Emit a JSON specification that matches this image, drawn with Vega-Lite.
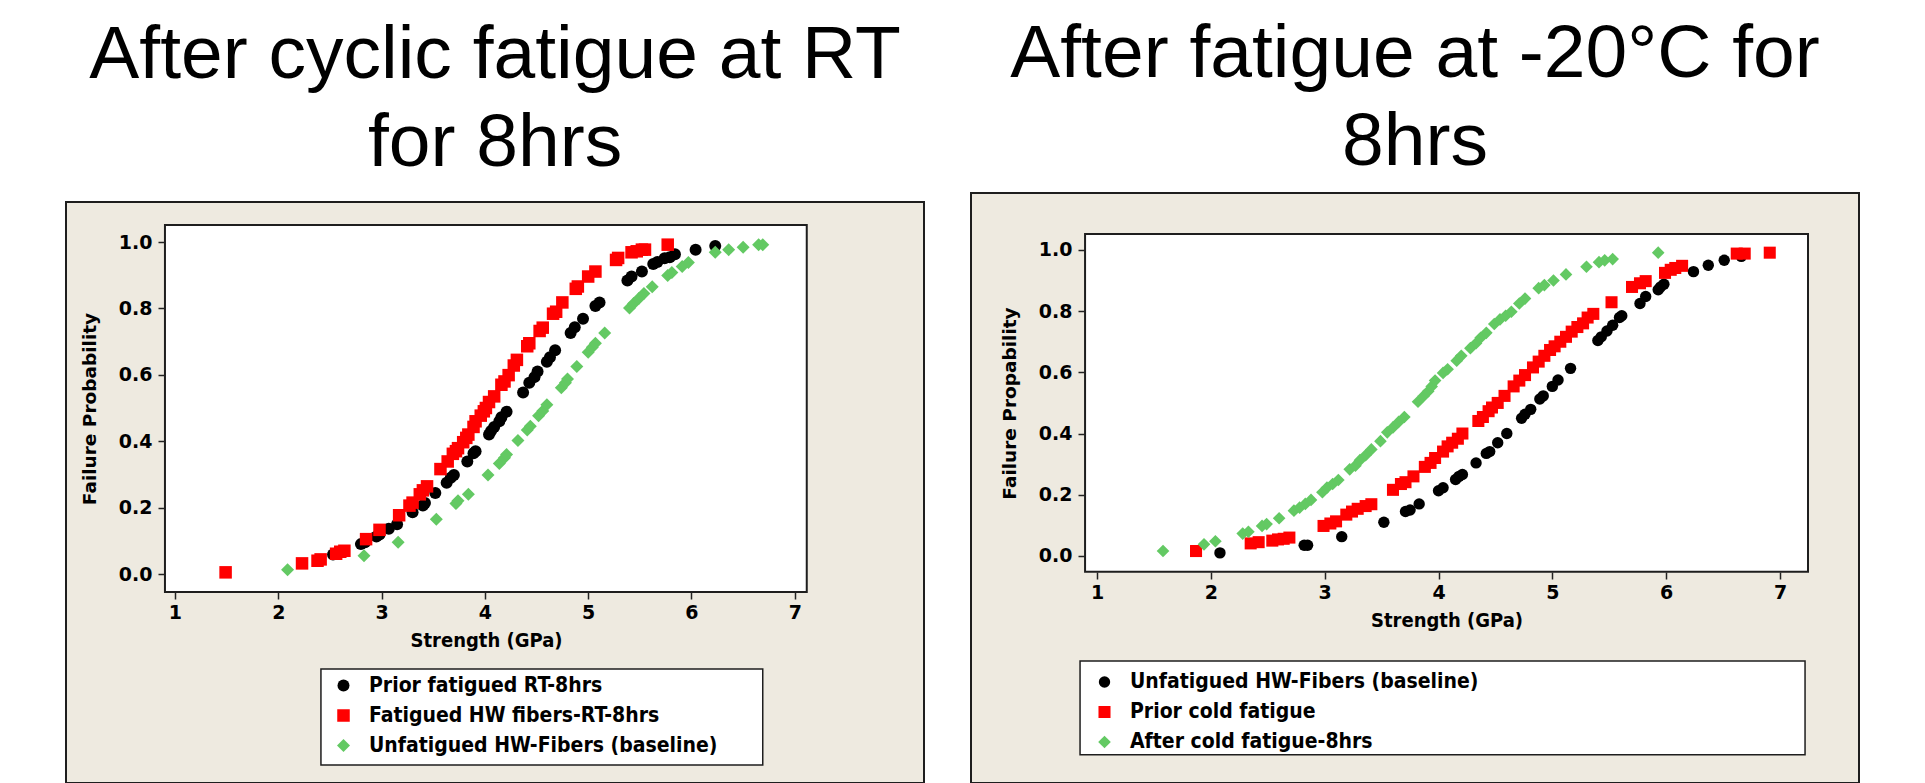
{
  "$schema": "https://vega.github.io/schema/vega-lite/v6.json",
  "background": "white",
  "padding": {"left": 65, "top": 17, "right": 0, "bottom": 0},
  "spacing": 45,
  "datasets": {
    "rt": [
      {"series": "Prior fatigued RT-8hrs", "strength": 2.53, "probability": 0.059},
      {"series": "Prior fatigued RT-8hrs", "strength": 2.80, "probability": 0.090},
      {"series": "Prior fatigued RT-8hrs", "strength": 2.84, "probability": 0.096},
      {"series": "Prior fatigued RT-8hrs", "strength": 2.95, "probability": 0.113},
      {"series": "Prior fatigued RT-8hrs", "strength": 2.98, "probability": 0.119},
      {"series": "Prior fatigued RT-8hrs", "strength": 3.07, "probability": 0.136},
      {"series": "Prior fatigued RT-8hrs", "strength": 3.15, "probability": 0.150},
      {"series": "Prior fatigued RT-8hrs", "strength": 3.30, "probability": 0.186},
      {"series": "Prior fatigued RT-8hrs", "strength": 3.40, "probability": 0.206},
      {"series": "Prior fatigued RT-8hrs", "strength": 3.42, "probability": 0.214},
      {"series": "Prior fatigued RT-8hrs", "strength": 3.52, "probability": 0.244},
      {"series": "Prior fatigued RT-8hrs", "strength": 3.63, "probability": 0.275},
      {"series": "Prior fatigued RT-8hrs", "strength": 3.67, "probability": 0.290},
      {"series": "Prior fatigued RT-8hrs", "strength": 3.70, "probability": 0.298},
      {"series": "Prior fatigued RT-8hrs", "strength": 3.83, "probability": 0.339},
      {"series": "Prior fatigued RT-8hrs", "strength": 3.89, "probability": 0.364},
      {"series": "Prior fatigued RT-8hrs", "strength": 3.91, "probability": 0.370},
      {"series": "Prior fatigued RT-8hrs", "strength": 4.04, "probability": 0.420},
      {"series": "Prior fatigued RT-8hrs", "strength": 4.06, "probability": 0.431},
      {"series": "Prior fatigued RT-8hrs", "strength": 4.09, "probability": 0.443},
      {"series": "Prior fatigued RT-8hrs", "strength": 4.14, "probability": 0.460},
      {"series": "Prior fatigued RT-8hrs", "strength": 4.16, "probability": 0.472},
      {"series": "Prior fatigued RT-8hrs", "strength": 4.21, "probability": 0.489},
      {"series": "Prior fatigued RT-8hrs", "strength": 4.37, "probability": 0.547},
      {"series": "Prior fatigued RT-8hrs", "strength": 4.43, "probability": 0.576},
      {"series": "Prior fatigued RT-8hrs", "strength": 4.48, "probability": 0.593},
      {"series": "Prior fatigued RT-8hrs", "strength": 4.51, "probability": 0.610},
      {"series": "Prior fatigued RT-8hrs", "strength": 4.60, "probability": 0.639},
      {"series": "Prior fatigued RT-8hrs", "strength": 4.63, "probability": 0.653},
      {"series": "Prior fatigued RT-8hrs", "strength": 4.68, "probability": 0.674},
      {"series": "Prior fatigued RT-8hrs", "strength": 4.83, "probability": 0.726},
      {"series": "Prior fatigued RT-8hrs", "strength": 4.87, "probability": 0.743},
      {"series": "Prior fatigued RT-8hrs", "strength": 4.95, "probability": 0.769},
      {"series": "Prior fatigued RT-8hrs", "strength": 5.07, "probability": 0.807},
      {"series": "Prior fatigued RT-8hrs", "strength": 5.11, "probability": 0.818},
      {"series": "Prior fatigued RT-8hrs", "strength": 5.38, "probability": 0.884},
      {"series": "Prior fatigued RT-8hrs", "strength": 5.42, "probability": 0.896},
      {"series": "Prior fatigued RT-8hrs", "strength": 5.52, "probability": 0.911},
      {"series": "Prior fatigued RT-8hrs", "strength": 5.63, "probability": 0.934},
      {"series": "Prior fatigued RT-8hrs", "strength": 5.67, "probability": 0.940},
      {"series": "Prior fatigued RT-8hrs", "strength": 5.74, "probability": 0.951},
      {"series": "Prior fatigued RT-8hrs", "strength": 5.79, "probability": 0.954},
      {"series": "Prior fatigued RT-8hrs", "strength": 5.84, "probability": 0.963},
      {"series": "Prior fatigued RT-8hrs", "strength": 6.04, "probability": 0.977},
      {"series": "Prior fatigued RT-8hrs", "strength": 6.23, "probability": 0.988},
      {"series": "Fatigued HW fibers-RT-8hrs", "strength": 1.49, "probability": 0.005},
      {"series": "Fatigued HW fibers-RT-8hrs", "strength": 2.23, "probability": 0.032},
      {"series": "Fatigued HW fibers-RT-8hrs", "strength": 2.38, "probability": 0.040},
      {"series": "Fatigued HW fibers-RT-8hrs", "strength": 2.41, "probability": 0.044},
      {"series": "Fatigued HW fibers-RT-8hrs", "strength": 2.56, "probability": 0.061},
      {"series": "Fatigued HW fibers-RT-8hrs", "strength": 2.60, "probability": 0.067},
      {"series": "Fatigued HW fibers-RT-8hrs", "strength": 2.64, "probability": 0.070},
      {"series": "Fatigued HW fibers-RT-8hrs", "strength": 2.85, "probability": 0.105},
      {"series": "Fatigued HW fibers-RT-8hrs", "strength": 2.98, "probability": 0.133},
      {"series": "Fatigued HW fibers-RT-8hrs", "strength": 3.17, "probability": 0.177},
      {"series": "Fatigued HW fibers-RT-8hrs", "strength": 3.27, "probability": 0.206},
      {"series": "Fatigued HW fibers-RT-8hrs", "strength": 3.30, "probability": 0.215},
      {"series": "Fatigued HW fibers-RT-8hrs", "strength": 3.37, "probability": 0.240},
      {"series": "Fatigued HW fibers-RT-8hrs", "strength": 3.40, "probability": 0.252},
      {"series": "Fatigued HW fibers-RT-8hrs", "strength": 3.44, "probability": 0.264},
      {"series": "Fatigued HW fibers-RT-8hrs", "strength": 3.57, "probability": 0.316},
      {"series": "Fatigued HW fibers-RT-8hrs", "strength": 3.64, "probability": 0.339},
      {"series": "Fatigued HW fibers-RT-8hrs", "strength": 3.69, "probability": 0.362},
      {"series": "Fatigued HW fibers-RT-8hrs", "strength": 3.72, "probability": 0.370},
      {"series": "Fatigued HW fibers-RT-8hrs", "strength": 3.74, "probability": 0.379},
      {"series": "Fatigued HW fibers-RT-8hrs", "strength": 3.79, "probability": 0.397},
      {"series": "Fatigued HW fibers-RT-8hrs", "strength": 3.82, "probability": 0.410},
      {"series": "Fatigued HW fibers-RT-8hrs", "strength": 3.84, "probability": 0.420},
      {"series": "Fatigued HW fibers-RT-8hrs", "strength": 3.89, "probability": 0.443},
      {"series": "Fatigued HW fibers-RT-8hrs", "strength": 3.91, "probability": 0.460},
      {"series": "Fatigued HW fibers-RT-8hrs", "strength": 3.96, "probability": 0.477},
      {"series": "Fatigued HW fibers-RT-8hrs", "strength": 3.99, "probability": 0.490},
      {"series": "Fatigued HW fibers-RT-8hrs", "strength": 4.01, "probability": 0.500},
      {"series": "Fatigued HW fibers-RT-8hrs", "strength": 4.04, "probability": 0.518},
      {"series": "Fatigued HW fibers-RT-8hrs", "strength": 4.09, "probability": 0.535},
      {"series": "Fatigued HW fibers-RT-8hrs", "strength": 4.16, "probability": 0.570},
      {"series": "Fatigued HW fibers-RT-8hrs", "strength": 4.19, "probability": 0.580},
      {"series": "Fatigued HW fibers-RT-8hrs", "strength": 4.23, "probability": 0.599},
      {"series": "Fatigued HW fibers-RT-8hrs", "strength": 4.28, "probability": 0.628},
      {"series": "Fatigued HW fibers-RT-8hrs", "strength": 4.31, "probability": 0.645},
      {"series": "Fatigued HW fibers-RT-8hrs", "strength": 4.41, "probability": 0.686},
      {"series": "Fatigued HW fibers-RT-8hrs", "strength": 4.43, "probability": 0.695},
      {"series": "Fatigued HW fibers-RT-8hrs", "strength": 4.53, "probability": 0.732},
      {"series": "Fatigued HW fibers-RT-8hrs", "strength": 4.56, "probability": 0.742},
      {"series": "Fatigued HW fibers-RT-8hrs", "strength": 4.66, "probability": 0.784},
      {"series": "Fatigued HW fibers-RT-8hrs", "strength": 4.69, "probability": 0.790},
      {"series": "Fatigued HW fibers-RT-8hrs", "strength": 4.75, "probability": 0.818},
      {"series": "Fatigued HW fibers-RT-8hrs", "strength": 4.88, "probability": 0.859},
      {"series": "Fatigued HW fibers-RT-8hrs", "strength": 4.90, "probability": 0.866},
      {"series": "Fatigued HW fibers-RT-8hrs", "strength": 5.00, "probability": 0.896},
      {"series": "Fatigued HW fibers-RT-8hrs", "strength": 5.07, "probability": 0.911},
      {"series": "Fatigued HW fibers-RT-8hrs", "strength": 5.27, "probability": 0.946},
      {"series": "Fatigued HW fibers-RT-8hrs", "strength": 5.29, "probability": 0.952},
      {"series": "Fatigued HW fibers-RT-8hrs", "strength": 5.42, "probability": 0.969},
      {"series": "Fatigued HW fibers-RT-8hrs", "strength": 5.47, "probability": 0.972},
      {"series": "Fatigued HW fibers-RT-8hrs", "strength": 5.52, "probability": 0.977},
      {"series": "Fatigued HW fibers-RT-8hrs", "strength": 5.55, "probability": 0.977},
      {"series": "Fatigued HW fibers-RT-8hrs", "strength": 5.77, "probability": 0.992},
      {"series": "Unfatigued HW-Fibers (baseline)", "strength": 2.09, "probability": 0.013},
      {"series": "Unfatigued HW-Fibers (baseline)", "strength": 2.83, "probability": 0.055},
      {"series": "Unfatigued HW-Fibers (baseline)", "strength": 3.16, "probability": 0.096},
      {"series": "Unfatigued HW-Fibers (baseline)", "strength": 3.53, "probability": 0.165},
      {"series": "Unfatigued HW-Fibers (baseline)", "strength": 3.72, "probability": 0.212},
      {"series": "Unfatigued HW-Fibers (baseline)", "strength": 3.74, "probability": 0.221},
      {"series": "Unfatigued HW-Fibers (baseline)", "strength": 3.84, "probability": 0.240},
      {"series": "Unfatigued HW-Fibers (baseline)", "strength": 4.03, "probability": 0.298},
      {"series": "Unfatigued HW-Fibers (baseline)", "strength": 4.14, "probability": 0.333},
      {"series": "Unfatigued HW-Fibers (baseline)", "strength": 4.19, "probability": 0.350},
      {"series": "Unfatigued HW-Fibers (baseline)", "strength": 4.21, "probability": 0.360},
      {"series": "Unfatigued HW-Fibers (baseline)", "strength": 4.32, "probability": 0.402},
      {"series": "Unfatigued HW-Fibers (baseline)", "strength": 4.41, "probability": 0.434},
      {"series": "Unfatigued HW-Fibers (baseline)", "strength": 4.44, "probability": 0.445},
      {"series": "Unfatigued HW-Fibers (baseline)", "strength": 4.52, "probability": 0.477},
      {"series": "Unfatigued HW-Fibers (baseline)", "strength": 4.56, "probability": 0.491},
      {"series": "Unfatigued HW-Fibers (baseline)", "strength": 4.60, "probability": 0.510},
      {"series": "Unfatigued HW-Fibers (baseline)", "strength": 4.74, "probability": 0.561},
      {"series": "Unfatigued HW-Fibers (baseline)", "strength": 4.78, "probability": 0.576},
      {"series": "Unfatigued HW-Fibers (baseline)", "strength": 4.80, "probability": 0.587},
      {"series": "Unfatigued HW-Fibers (baseline)", "strength": 4.89, "probability": 0.625},
      {"series": "Unfatigued HW-Fibers (baseline)", "strength": 5.00, "probability": 0.668},
      {"series": "Unfatigued HW-Fibers (baseline)", "strength": 5.04, "probability": 0.683},
      {"series": "Unfatigued HW-Fibers (baseline)", "strength": 5.07, "probability": 0.695},
      {"series": "Unfatigued HW-Fibers (baseline)", "strength": 5.16, "probability": 0.726},
      {"series": "Unfatigued HW-Fibers (baseline)", "strength": 5.40, "probability": 0.801},
      {"series": "Unfatigued HW-Fibers (baseline)", "strength": 5.44, "probability": 0.815},
      {"series": "Unfatigued HW-Fibers (baseline)", "strength": 5.49, "probability": 0.830},
      {"series": "Unfatigued HW-Fibers (baseline)", "strength": 5.54, "probability": 0.845},
      {"series": "Unfatigued HW-Fibers (baseline)", "strength": 5.62, "probability": 0.865},
      {"series": "Unfatigued HW-Fibers (baseline)", "strength": 5.77, "probability": 0.899},
      {"series": "Unfatigued HW-Fibers (baseline)", "strength": 5.81, "probability": 0.908},
      {"series": "Unfatigued HW-Fibers (baseline)", "strength": 5.91, "probability": 0.926},
      {"series": "Unfatigued HW-Fibers (baseline)", "strength": 5.97, "probability": 0.938},
      {"series": "Unfatigued HW-Fibers (baseline)", "strength": 6.23, "probability": 0.969},
      {"series": "Unfatigued HW-Fibers (baseline)", "strength": 6.36, "probability": 0.977},
      {"series": "Unfatigued HW-Fibers (baseline)", "strength": 6.50, "probability": 0.984},
      {"series": "Unfatigued HW-Fibers (baseline)", "strength": 6.65, "probability": 0.992},
      {"series": "Unfatigued HW-Fibers (baseline)", "strength": 6.69, "probability": 0.992}
    ],
    "cold": [
      {"series": "Unfatigued HW-Fibers (baseline)", "strength": 2.08, "probability": 0.010},
      {"series": "Unfatigued HW-Fibers (baseline)", "strength": 2.82, "probability": 0.035},
      {"series": "Unfatigued HW-Fibers (baseline)", "strength": 2.85, "probability": 0.035},
      {"series": "Unfatigued HW-Fibers (baseline)", "strength": 3.15, "probability": 0.063},
      {"series": "Unfatigued HW-Fibers (baseline)", "strength": 3.52, "probability": 0.110},
      {"series": "Unfatigued HW-Fibers (baseline)", "strength": 3.71, "probability": 0.145},
      {"series": "Unfatigued HW-Fibers (baseline)", "strength": 3.75, "probability": 0.150},
      {"series": "Unfatigued HW-Fibers (baseline)", "strength": 3.83, "probability": 0.170},
      {"series": "Unfatigued HW-Fibers (baseline)", "strength": 4.00, "probability": 0.213},
      {"series": "Unfatigued HW-Fibers (baseline)", "strength": 4.04, "probability": 0.223},
      {"series": "Unfatigued HW-Fibers (baseline)", "strength": 4.15, "probability": 0.250},
      {"series": "Unfatigued HW-Fibers (baseline)", "strength": 4.18, "probability": 0.260},
      {"series": "Unfatigued HW-Fibers (baseline)", "strength": 4.21, "probability": 0.266},
      {"series": "Unfatigued HW-Fibers (baseline)", "strength": 4.33, "probability": 0.304},
      {"series": "Unfatigued HW-Fibers (baseline)", "strength": 4.42, "probability": 0.335},
      {"series": "Unfatigued HW-Fibers (baseline)", "strength": 4.45, "probability": 0.341},
      {"series": "Unfatigued HW-Fibers (baseline)", "strength": 4.52, "probability": 0.370},
      {"series": "Unfatigued HW-Fibers (baseline)", "strength": 4.60, "probability": 0.400},
      {"series": "Unfatigued HW-Fibers (baseline)", "strength": 4.73, "probability": 0.450},
      {"series": "Unfatigued HW-Fibers (baseline)", "strength": 4.76, "probability": 0.463},
      {"series": "Unfatigued HW-Fibers (baseline)", "strength": 4.81, "probability": 0.479},
      {"series": "Unfatigued HW-Fibers (baseline)", "strength": 4.89, "probability": 0.513},
      {"series": "Unfatigued HW-Fibers (baseline)", "strength": 4.92, "probability": 0.523},
      {"series": "Unfatigued HW-Fibers (baseline)", "strength": 5.00, "probability": 0.554},
      {"series": "Unfatigued HW-Fibers (baseline)", "strength": 5.05, "probability": 0.575},
      {"series": "Unfatigued HW-Fibers (baseline)", "strength": 5.16, "probability": 0.613},
      {"series": "Unfatigued HW-Fibers (baseline)", "strength": 5.40, "probability": 0.704},
      {"series": "Unfatigued HW-Fibers (baseline)", "strength": 5.43, "probability": 0.716},
      {"series": "Unfatigued HW-Fibers (baseline)", "strength": 5.48, "probability": 0.735},
      {"series": "Unfatigued HW-Fibers (baseline)", "strength": 5.53, "probability": 0.754},
      {"series": "Unfatigued HW-Fibers (baseline)", "strength": 5.59, "probability": 0.779},
      {"series": "Unfatigued HW-Fibers (baseline)", "strength": 5.61, "probability": 0.785},
      {"series": "Unfatigued HW-Fibers (baseline)", "strength": 5.77, "probability": 0.825},
      {"series": "Unfatigued HW-Fibers (baseline)", "strength": 5.82, "probability": 0.848},
      {"series": "Unfatigued HW-Fibers (baseline)", "strength": 5.93, "probability": 0.870},
      {"series": "Unfatigued HW-Fibers (baseline)", "strength": 5.95, "probability": 0.879},
      {"series": "Unfatigued HW-Fibers (baseline)", "strength": 5.98, "probability": 0.888},
      {"series": "Unfatigued HW-Fibers (baseline)", "strength": 6.24, "probability": 0.929},
      {"series": "Unfatigued HW-Fibers (baseline)", "strength": 6.37, "probability": 0.950},
      {"series": "Unfatigued HW-Fibers (baseline)", "strength": 6.51, "probability": 0.966},
      {"series": "Unfatigued HW-Fibers (baseline)", "strength": 6.66, "probability": 0.979},
      {"series": "Prior cold fatigue", "strength": 1.87, "probability": 0.016},
      {"series": "Prior cold fatigue", "strength": 2.35, "probability": 0.041},
      {"series": "Prior cold fatigue", "strength": 2.42, "probability": 0.045},
      {"series": "Prior cold fatigue", "strength": 2.54, "probability": 0.050},
      {"series": "Prior cold fatigue", "strength": 2.59, "probability": 0.054},
      {"series": "Prior cold fatigue", "strength": 2.64, "probability": 0.056},
      {"series": "Prior cold fatigue", "strength": 2.69, "probability": 0.060},
      {"series": "Prior cold fatigue", "strength": 2.99, "probability": 0.098},
      {"series": "Prior cold fatigue", "strength": 3.05, "probability": 0.106},
      {"series": "Prior cold fatigue", "strength": 3.10, "probability": 0.113},
      {"series": "Prior cold fatigue", "strength": 3.19, "probability": 0.135},
      {"series": "Prior cold fatigue", "strength": 3.24, "probability": 0.145},
      {"series": "Prior cold fatigue", "strength": 3.29, "probability": 0.154},
      {"series": "Prior cold fatigue", "strength": 3.36, "probability": 0.163},
      {"series": "Prior cold fatigue", "strength": 3.41, "probability": 0.169},
      {"series": "Prior cold fatigue", "strength": 3.60, "probability": 0.216},
      {"series": "Prior cold fatigue", "strength": 3.67, "probability": 0.235},
      {"series": "Prior cold fatigue", "strength": 3.71, "probability": 0.241},
      {"series": "Prior cold fatigue", "strength": 3.78, "probability": 0.260},
      {"series": "Prior cold fatigue", "strength": 3.88, "probability": 0.291},
      {"series": "Prior cold fatigue", "strength": 3.93, "probability": 0.304},
      {"series": "Prior cold fatigue", "strength": 3.97, "probability": 0.320},
      {"series": "Prior cold fatigue", "strength": 4.04, "probability": 0.341},
      {"series": "Prior cold fatigue", "strength": 4.08, "probability": 0.358},
      {"series": "Prior cold fatigue", "strength": 4.12, "probability": 0.370},
      {"series": "Prior cold fatigue", "strength": 4.17, "probability": 0.383},
      {"series": "Prior cold fatigue", "strength": 4.21, "probability": 0.400},
      {"series": "Prior cold fatigue", "strength": 4.35, "probability": 0.441},
      {"series": "Prior cold fatigue", "strength": 4.39, "probability": 0.454},
      {"series": "Prior cold fatigue", "strength": 4.44, "probability": 0.473},
      {"series": "Prior cold fatigue", "strength": 4.47, "probability": 0.485},
      {"series": "Prior cold fatigue", "strength": 4.52, "probability": 0.500},
      {"series": "Prior cold fatigue", "strength": 4.58, "probability": 0.523},
      {"series": "Prior cold fatigue", "strength": 4.66, "probability": 0.554},
      {"series": "Prior cold fatigue", "strength": 4.71, "probability": 0.573},
      {"series": "Prior cold fatigue", "strength": 4.76, "probability": 0.591},
      {"series": "Prior cold fatigue", "strength": 4.83, "probability": 0.616},
      {"series": "Prior cold fatigue", "strength": 4.88, "probability": 0.635},
      {"series": "Prior cold fatigue", "strength": 4.93, "probability": 0.654},
      {"series": "Prior cold fatigue", "strength": 4.98, "probability": 0.673},
      {"series": "Prior cold fatigue", "strength": 5.02, "probability": 0.685},
      {"series": "Prior cold fatigue", "strength": 5.07, "probability": 0.700},
      {"series": "Prior cold fatigue", "strength": 5.12, "probability": 0.716},
      {"series": "Prior cold fatigue", "strength": 5.17, "probability": 0.733},
      {"series": "Prior cold fatigue", "strength": 5.22, "probability": 0.748},
      {"series": "Prior cold fatigue", "strength": 5.27, "probability": 0.760},
      {"series": "Prior cold fatigue", "strength": 5.31, "probability": 0.779},
      {"series": "Prior cold fatigue", "strength": 5.36, "probability": 0.791},
      {"series": "Prior cold fatigue", "strength": 5.52, "probability": 0.829},
      {"series": "Prior cold fatigue", "strength": 5.70, "probability": 0.879},
      {"series": "Prior cold fatigue", "strength": 5.77, "probability": 0.891},
      {"series": "Prior cold fatigue", "strength": 5.82, "probability": 0.898},
      {"series": "Prior cold fatigue", "strength": 5.99, "probability": 0.925},
      {"series": "Prior cold fatigue", "strength": 6.04, "probability": 0.935},
      {"series": "Prior cold fatigue", "strength": 6.08, "probability": 0.941},
      {"series": "Prior cold fatigue", "strength": 6.14, "probability": 0.948},
      {"series": "Prior cold fatigue", "strength": 6.62, "probability": 0.988},
      {"series": "Prior cold fatigue", "strength": 6.69, "probability": 0.988},
      {"series": "Prior cold fatigue", "strength": 6.91, "probability": 0.991},
      {"series": "After cold fatigue-8hrs", "strength": 1.58, "probability": 0.016},
      {"series": "After cold fatigue-8hrs", "strength": 1.94, "probability": 0.038},
      {"series": "After cold fatigue-8hrs", "strength": 2.04, "probability": 0.048},
      {"series": "After cold fatigue-8hrs", "strength": 2.28, "probability": 0.073},
      {"series": "After cold fatigue-8hrs", "strength": 2.33, "probability": 0.079},
      {"series": "After cold fatigue-8hrs", "strength": 2.45, "probability": 0.098},
      {"series": "After cold fatigue-8hrs", "strength": 2.49, "probability": 0.104},
      {"series": "After cold fatigue-8hrs", "strength": 2.60, "probability": 0.123},
      {"series": "After cold fatigue-8hrs", "strength": 2.73, "probability": 0.148},
      {"series": "After cold fatigue-8hrs", "strength": 2.78, "probability": 0.158},
      {"series": "After cold fatigue-8hrs", "strength": 2.83, "probability": 0.170},
      {"series": "After cold fatigue-8hrs", "strength": 2.88, "probability": 0.183},
      {"series": "After cold fatigue-8hrs", "strength": 2.98, "probability": 0.208},
      {"series": "After cold fatigue-8hrs", "strength": 3.02, "probability": 0.223},
      {"series": "After cold fatigue-8hrs", "strength": 3.07, "probability": 0.235},
      {"series": "After cold fatigue-8hrs", "strength": 3.12, "probability": 0.248},
      {"series": "After cold fatigue-8hrs", "strength": 3.22, "probability": 0.283},
      {"series": "After cold fatigue-8hrs", "strength": 3.27, "probability": 0.295},
      {"series": "After cold fatigue-8hrs", "strength": 3.31, "probability": 0.313},
      {"series": "After cold fatigue-8hrs", "strength": 3.36, "probability": 0.329},
      {"series": "After cold fatigue-8hrs", "strength": 3.41, "probability": 0.348},
      {"series": "After cold fatigue-8hrs", "strength": 3.49, "probability": 0.375},
      {"series": "After cold fatigue-8hrs", "strength": 3.55, "probability": 0.404},
      {"series": "After cold fatigue-8hrs", "strength": 3.60, "probability": 0.420},
      {"series": "After cold fatigue-8hrs", "strength": 3.65, "probability": 0.438},
      {"series": "After cold fatigue-8hrs", "strength": 3.70, "probability": 0.454},
      {"series": "After cold fatigue-8hrs", "strength": 3.82, "probability": 0.504},
      {"series": "After cold fatigue-8hrs", "strength": 3.87, "probability": 0.523},
      {"series": "After cold fatigue-8hrs", "strength": 3.91, "probability": 0.538},
      {"series": "After cold fatigue-8hrs", "strength": 3.94, "probability": 0.554},
      {"series": "After cold fatigue-8hrs", "strength": 3.97, "probability": 0.573},
      {"series": "After cold fatigue-8hrs", "strength": 4.04, "probability": 0.598},
      {"series": "After cold fatigue-8hrs", "strength": 4.08, "probability": 0.610},
      {"series": "After cold fatigue-8hrs", "strength": 4.16, "probability": 0.638},
      {"series": "After cold fatigue-8hrs", "strength": 4.20, "probability": 0.654},
      {"series": "After cold fatigue-8hrs", "strength": 4.28, "probability": 0.679},
      {"series": "After cold fatigue-8hrs", "strength": 4.33, "probability": 0.695},
      {"series": "After cold fatigue-8hrs", "strength": 4.37, "probability": 0.713},
      {"series": "After cold fatigue-8hrs", "strength": 4.42, "probability": 0.729},
      {"series": "After cold fatigue-8hrs", "strength": 4.49, "probability": 0.758},
      {"series": "After cold fatigue-8hrs", "strength": 4.54, "probability": 0.773},
      {"series": "After cold fatigue-8hrs", "strength": 4.59, "probability": 0.785},
      {"series": "After cold fatigue-8hrs", "strength": 4.64, "probability": 0.798},
      {"series": "After cold fatigue-8hrs", "strength": 4.71, "probability": 0.825},
      {"series": "After cold fatigue-8hrs", "strength": 4.76, "probability": 0.841},
      {"series": "After cold fatigue-8hrs", "strength": 4.88, "probability": 0.875},
      {"series": "After cold fatigue-8hrs", "strength": 4.93, "probability": 0.885},
      {"series": "After cold fatigue-8hrs", "strength": 5.01, "probability": 0.900},
      {"series": "After cold fatigue-8hrs", "strength": 5.12, "probability": 0.920},
      {"series": "After cold fatigue-8hrs", "strength": 5.30, "probability": 0.945},
      {"series": "After cold fatigue-8hrs", "strength": 5.41, "probability": 0.960},
      {"series": "After cold fatigue-8hrs", "strength": 5.46, "probability": 0.966},
      {"series": "After cold fatigue-8hrs", "strength": 5.53, "probability": 0.970},
      {"series": "After cold fatigue-8hrs", "strength": 5.93, "probability": 0.991}
    ]
  },
  "resolve": {
    "scale": {"color": "independent", "shape": "independent", "size": "independent", "x": "independent", "y": "independent"},
    "legend": {"color": "independent", "shape": "independent"}
  },
  "config": {
    "view": {"fill": null, "stroke": null},
    "axis": {
      "grid": false, "domain": false, "tickColor": "#222222", "tickSize": 7, "tickWidth": 1.5,
      "labelFont": "DejaVu Sans", "labelFontWeight": "bold", "labelFontSize": 19, "labelColor": "black",
      "titleColor": "black"
    },
    "axisX": {"titleFont": "DejaVu Sans Condensed, Liberation Sans Narrow, sans-serif", "titleFontSize": 20, "titleFontWeight": "bold", "labelPadding": 4, "titlePadding": 8},
    "axisY": {"titleFont": "DejaVu Sans", "titleFontSize": 18.5, "titleFontWeight": "bold", "labelPadding": 6, "titlePadding": 19},
    "legend": {
      "labelFont": "DejaVu Sans Condensed, Liberation Sans Narrow, sans-serif", "labelFontSize": 21, "labelFontWeight": "bold",
      "labelColor": "black", "labelLimit": 800, "symbolSize": 130, "symbolStrokeWidth": 0, "rowPadding": 8, "labelOffset": 15, "padding": 0
    },
    "title": {"font": "Liberation Sans", "fontSize": 75, "fontWeight": "normal", "color": "black", "lineHeight": 88, "anchor": "middle", "frame": "group", "offset": 11}
  },
  "hconcat": [
    {
      "width": 858,
      "height": 590,
      "title": {"text": ["After cyclic fatigue at RT", "for 8hrs"]},
      "layer": [
        {
          "data": {"values": [{}]},
          "mark": {"type": "rect", "fill": "#EEEAE0", "stroke": "#1e1e1e", "strokeWidth": 2},
          "encoding": {
            "x": {"datum": -0.055, "type": "quantitative", "title": "Strength (GPa)"},
            "x2": {"datum": 8.251},
            "y": {"datum": 1.1205, "type": "quantitative", "title": "Failure Probability"},
            "y2": {"datum": -0.6295}
          }
        },
        {
          "data": {"values": [{}]},
          "mark": {"type": "rect", "fill": "white", "stroke": "#1e1e1e", "strokeWidth": 2},
          "encoding": {
            "x": {"datum": 0.903, "type": "quantitative", "title": "Strength (GPa)"},
            "x2": {"datum": 7.116},
            "y": {"datum": -0.054, "type": "quantitative", "title": "Failure Probability"},
            "y2": {"datum": 1.051}
          }
        },
        {
          "data": {"values": [{}]},
          "mark": {"type": "rect", "fill": "white", "stroke": "#1e1e1e", "strokeWidth": 1.5},
          "encoding": {
            "x": {"datum": 2.413, "type": "quantitative", "title": "Strength (GPa)"},
            "x2": {"datum": 6.690},
            "y": {"datum": -0.286, "type": "quantitative", "title": "Failure Probability"},
            "y2": {"datum": -0.575}
          }
        },
        {
          "data": {"name": "rt"},
          "mark": {"type": "point", "filled": true, "opacity": 1, "strokeWidth": 0},
          "encoding": {
            "x": {
              "field": "strength", "type": "quantitative", "title": "Strength (GPa)",
              "scale": {"domain": [-0.055, 8.251], "nice": false, "zero": false},
              "axis": {"values": [1, 2, 3, 4, 5, 6, 7], "format": "d", "offset": -191, "titleX": 420, "zindex": 2}
            },
            "y": {
              "field": "probability", "type": "quantitative", "title": "Failure Probability",
              "scale": {"domain": [-0.6295, 1.1476], "nice": false, "zero": false},
              "axis": {"values": [0, 0.2, 0.4, 0.6, 0.8, 1.0], "format": ".1f", "offset": -99, "titleY": 215.5, "zindex": 2}
            },
            "color": {
              "field": "series", "type": "nominal",
              "scale": {"domain": ["Prior fatigued RT-8hrs", "Fatigued HW fibers-RT-8hrs", "Unfatigued HW-Fibers (baseline)"], "range": ["#000000", "#FF0000", "#63C963"]},
              "legend": {"title": null, "orient": "none", "legendX": 267, "legendY": 482}
            },
            "shape": {
              "field": "series", "type": "nominal",
              "scale": {"domain": ["Prior fatigued RT-8hrs", "Fatigued HW fibers-RT-8hrs", "Unfatigued HW-Fibers (baseline)"], "range": ["circle", "square", "diamond"]},
              "legend": {"title": null, "orient": "none", "legendX": 267, "legendY": 482}
            },
            "size": {
              "field": "series", "type": "nominal",
              "scale": {"domain": ["Prior fatigued RT-8hrs", "Fatigued HW fibers-RT-8hrs", "Unfatigued HW-Fibers (baseline)"], "range": [144, 169, 225]},
              "legend": null
            }
          }
        }
      ]
    },
    {
      "width": 888,
      "height": 590,
      "title": {"text": ["After fatigue at -20°C for", "8hrs"]},
      "layer": [
        {
          "data": {"values": [{}]},
          "mark": {"type": "rect", "fill": "#EEEAE0", "stroke": "#1e1e1e", "strokeWidth": 2},
          "encoding": {
            "x": {"datum": -0.107, "type": "quantitative", "title": "Strength (GPa)"},
            "x2": {"datum": 7.694},
            "y": {"datum": 1.186, "type": "quantitative", "title": "Failure Propability"},
            "y2": {"datum": -0.742}
          }
        },
        {
          "data": {"values": [{}]},
          "mark": {"type": "rect", "fill": "white", "stroke": "#1e1e1e", "strokeWidth": 2},
          "encoding": {
            "x": {"datum": 0.895, "type": "quantitative", "title": "Strength (GPa)"},
            "x2": {"datum": 7.246},
            "y": {"datum": -0.052, "type": "quantitative", "title": "Failure Propability"},
            "y2": {"datum": 1.052}
          }
        },
        {
          "data": {"values": [{}]},
          "mark": {"type": "rect", "fill": "white", "stroke": "#1e1e1e", "strokeWidth": 1.5},
          "encoding": {
            "x": {"datum": 0.851, "type": "quantitative", "title": "Strength (GPa)"},
            "x2": {"datum": 7.220},
            "y": {"datum": -0.343, "type": "quantitative", "title": "Failure Propability"},
            "y2": {"datum": -0.650}
          }
        },
        {
          "data": {"name": "cold"},
          "mark": {"type": "point", "filled": true, "opacity": 1, "strokeWidth": 0},
          "encoding": {
            "x": {
              "field": "strength", "type": "quantitative", "title": "Strength (GPa)",
              "scale": {"domain": [-0.107, 7.694], "nice": false, "zero": false},
              "axis": {"values": [1, 2, 3, 4, 5, 6, 7], "format": "d", "offset": -211, "titleX": 475.5, "zindex": 2}
            },
            "y": {
              "field": "probability", "type": "quantitative", "title": "Failure Propability",
              "scale": {"domain": [-0.742, 1.186], "nice": false, "zero": false},
              "axis": {"values": [0, 0.2, 0.4, 0.6, 0.8, 1.0], "format": ".1f", "offset": -114, "titleY": 210, "zindex": 2}
            },
            "color": {
              "field": "series", "type": "nominal",
              "scale": {"domain": ["Unfatigued HW-Fibers (baseline)", "Prior cold fatigue", "After cold fatigue-8hrs"], "range": ["#000000", "#FF0000", "#63C963"]},
              "legend": {"title": null, "orient": "none", "legendX": 123, "legendY": 478.5}
            },
            "shape": {
              "field": "series", "type": "nominal",
              "scale": {"domain": ["Unfatigued HW-Fibers (baseline)", "Prior cold fatigue", "After cold fatigue-8hrs"], "range": ["circle", "square", "diamond"]},
              "legend": {"title": null, "orient": "none", "legendX": 123, "legendY": 478.5}
            },
            "size": {
              "field": "series", "type": "nominal",
              "scale": {"domain": ["Unfatigued HW-Fibers (baseline)", "Prior cold fatigue", "After cold fatigue-8hrs"], "range": [130, 160, 200]},
              "legend": null
            }
          }
        }
      ]
    }
  ]
}
